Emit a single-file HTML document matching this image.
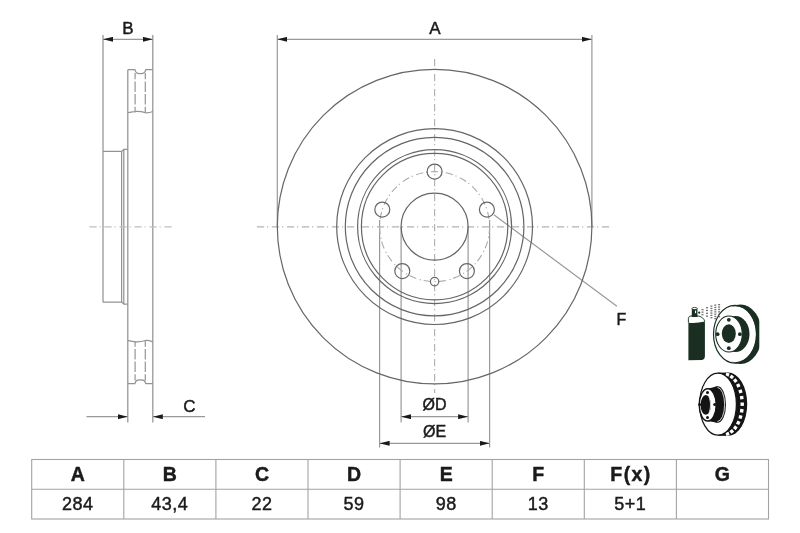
<!DOCTYPE html>
<html><head><meta charset="utf-8">
<style>
html,body{margin:0;padding:0;background:#fff;}
body{width:800px;height:533px;overflow:hidden;position:relative;font-family:"Liberation Sans",sans-serif;}
svg{position:absolute;left:0;top:0;}
.t{font-family:"Liberation Sans",sans-serif;fill:#1a1a1a;stroke:#1a1a1a;stroke-width:0.45px;}
svg{will-change:transform;}
</style></head><body>
<svg width="800" height="533" viewBox="0 0 800 533">
<defs>
<marker id="ar" viewBox="0 0 10 5" refX="10" refY="2.5" markerWidth="10" markerHeight="5" markerUnits="userSpaceOnUse" orient="auto-start-reverse">
<path d="M10,2.5 L0,0 L0,5 Z" fill="#1a1a1a"/>
</marker>
<clipPath id="clipR"><rect x="700" y="290" width="59.3" height="90"/></clipPath>
</defs>

<!-- ============ SIDE VIEW ============ -->
<g fill="none" stroke="#939393" stroke-width="1.25">
  <!-- B extension / hat outer -->
  <line x1="103" y1="35" x2="103" y2="302.2"/>
  <line x1="152.8" y1="35" x2="152.8" y2="422.5"/>
  <line x1="127.8" y1="69.8" x2="127.8" y2="422.5"/>
  <!-- hat walls -->
  <line x1="121.6" y1="151.4" x2="121.6" y2="302.2"/>
  <line x1="123.8" y1="149.4" x2="123.8" y2="304"/>
  <!-- hat top/bottom -->
  <path d="M103,151.4 H121.6 L123.8,149.4 H127.8"/>
  <path d="M103,302 H121.6 L123.8,304 H127.8"/>
  <!-- friction ring top w/ vent notch -->
  <path d="M127.8,69.7 H134.9 C136,73.8 137.5,73.5 140.3,73.5 C143.1,73.5 144.6,73.8 145.8,69.7 H152.8"/>
  <path d="M127.8,112.6 C131,112.4 133,111.7 135.1,111.5 C138,111.2 141.5,111.5 145.3,112.7 C148,113.2 150.5,112.4 152.8,111.5"/>
  <path d="M127.8,383.7 H134.9 C136,379.6 137.5,379.9 140.3,379.9 C143.1,379.9 144.6,379.6 145.8,383.7 H152.8"/>
  <path d="M127.8,340.6 C131,340.8 133,341.6 135.1,341.8 C138,342.1 141.5,341.9 145.3,340.5 C148,340 150.5,340.9 152.8,341.8"/>
</g>
<g fill="none" stroke="#999" stroke-width="1.25" stroke-dasharray="10.5 2.2" stroke-dashoffset="4.3">
  <line x1="135.1" y1="73" x2="135.1" y2="112.5"/>
  <line x1="145.3" y1="73" x2="145.3" y2="112.5"/>
  <line x1="135.1" y1="380.5" x2="135.1" y2="341"/>
  <line x1="145.3" y1="380.5" x2="145.3" y2="341"/>
</g>
<!-- side center line -->
<line x1="89.4" y1="226.8" x2="171.7" y2="226.8" stroke="#c0c0c0" stroke-width="1.2" stroke-dasharray="7.3 2.8 1.2 3.7"/>

<!-- B dimension -->
<line x1="103" y1="39.3" x2="152.8" y2="39.3" stroke="#999" stroke-width="1.2" marker-start="url(#ar)" marker-end="url(#ar)"/>
<text class="t" x="128" y="34.3" font-size="17" text-anchor="middle">B</text>
<!-- C dimension -->
<line x1="86.5" y1="416.7" x2="127.8" y2="416.7" stroke="#999" stroke-width="1.2" marker-end="url(#ar)"/>
<line x1="152.8" y1="416.7" x2="205" y2="416.7" stroke="#999" stroke-width="1.2" marker-start="url(#ar)"/>
<text class="t" x="189.5" y="411.6" font-size="17" text-anchor="middle">C</text>

<!-- ============ FRONT VIEW ============ -->
<g fill="none" stroke="#999" stroke-width="1.2">
  <line x1="277.3" y1="35" x2="277.3" y2="226.6"/>
  <line x1="591.9" y1="35" x2="591.9" y2="226.6"/>
  <line x1="277.3" y1="39.3" x2="591.9" y2="39.3" marker-start="url(#ar)" marker-end="url(#ar)"/>
  <!-- OD -->
  <line x1="401.1" y1="226.6" x2="401.1" y2="422.4"/>
  <line x1="468.1" y1="226.6" x2="468.1" y2="422.4"/>
  <line x1="401.1" y1="416.7" x2="468.1" y2="416.7" marker-start="url(#ar)" marker-end="url(#ar)"/>
  <!-- OE -->
  <line x1="379.6" y1="220" x2="379.6" y2="447.5"/>
  <line x1="489.6" y1="220" x2="489.6" y2="447.5"/>
  <line x1="379.6" y1="443.3" x2="489.6" y2="443.3" marker-start="url(#ar)" marker-end="url(#ar)"/>
  <!-- F leader -->
  <line x1="493.9" y1="214.8" x2="616.9" y2="306.2"/>
</g>
<text class="t" x="435" y="34.4" font-size="17" text-anchor="middle">A</text>
<text class="t" x="434.5" y="410.4" font-size="16" text-anchor="middle">ØD</text>
<text class="t" x="434.5" y="436.6" font-size="16" text-anchor="middle">ØE</text>
<text class="t" x="621.3" y="325.1" font-size="16" text-anchor="middle">F</text>

<!-- PCD -->
<circle cx="434.6" cy="226.6" r="55" fill="none" stroke="#aaa" stroke-width="1.1" stroke-dasharray="7.3 2.8 1.2 3.7"/>
<!-- center lines -->
<line x1="256.9" y1="226.8" x2="612" y2="226.8" stroke="#b3b3b3" stroke-width="1.2" stroke-dasharray="7.3 2.8 1.2 3.7"/>
<line x1="434.6" y1="59" x2="434.6" y2="393" stroke="#b3b3b3" stroke-width="1.2" stroke-dasharray="7.3 2.8 1.2 3.7"/>

<g fill="none" stroke="#666" stroke-width="1.2">
  <circle cx="434.6" cy="226.6" r="157.3"/>
  <circle cx="434.6" cy="226.6" r="97.9"/>
  <circle cx="434.6" cy="226.6" r="89.3"/>
  <circle cx="434.6" cy="226.6" r="77"/>
  <circle cx="434.6" cy="226.6" r="73.2"/>
  <circle cx="434.6" cy="226.6" r="33.5"/>
  <circle cx="434.6" cy="171.6" r="7.5"/>
  <circle cx="486.9" cy="209.6" r="7.5"/>
  <circle cx="466.9" cy="271.1" r="7.5"/>
  <circle cx="402.3" cy="271.1" r="7.5"/>
  <circle cx="382.3" cy="209.6" r="7.5"/>
  <circle cx="434.6" cy="281.6" r="4.2"/>
</g>
<!-- ============ TABLE ============ -->
<g stroke="#a3a3a3" stroke-width="1.1" fill="none">
  <rect x="31.7" y="459.5" width="736.8" height="59.5"/>
  <line x1="31.7" y1="489.3" x2="768.5" y2="489.3"/>
  <line x1="123.8" y1="459.5" x2="123.8" y2="519"/>
  <line x1="215.9" y1="459.5" x2="215.9" y2="519"/>
  <line x1="308" y1="459.5" x2="308" y2="519"/>
  <line x1="400.1" y1="459.5" x2="400.1" y2="519"/>
  <line x1="492.2" y1="459.5" x2="492.2" y2="519"/>
  <line x1="584.3" y1="459.5" x2="584.3" y2="519"/>
  <line x1="676.4" y1="459.5" x2="676.4" y2="519"/>
</g>
<g class="t" font-size="19.5" text-anchor="middle" font-weight="bold">
  <text x="77.75" y="481.2">A</text>
  <text x="169.85" y="481.2">B</text>
  <text x="261.95" y="481.2">C</text>
  <text x="354.05" y="481.2">D</text>
  <text x="446.15" y="481.2">E</text>
  <text x="538.25" y="481.2">F</text>
  <text x="631" y="481.2" letter-spacing="1.4">F(x)</text>
  <text x="722.45" y="481.2">G</text>
</g>
<g class="t" font-size="18" text-anchor="middle" letter-spacing="0.5">
  <text x="77.75" y="510">284</text>
  <text x="169.85" y="510">43,4</text>
  <text x="261.95" y="510">22</text>
  <text x="354.05" y="510">59</text>
  <text x="446.15" y="510">98</text>
  <text x="538.25" y="510">13</text>
  <text x="630.35" y="510">5+1</text>
</g>

<!-- ============ ICONS ============ -->
<g id="icon1">
<ellipse cx="740.5" cy="334.2" rx="21.5" ry="29.7" fill="#1a2f22" clip-path="url(#clipR)"/>
<ellipse cx="735.2" cy="334.2" rx="20.9" ry="28" fill="#fff"/>
<ellipse cx="735" cy="334.2" rx="21.5" ry="28.9" fill="none" stroke="#1a2f22" stroke-width="1.2"/>
<ellipse cx="735.5" cy="334" rx="14" ry="18" fill="#1a2f22"/>
<ellipse cx="729" cy="334" rx="13.3" ry="18" fill="#fff" stroke="#1a2f22" stroke-width="1.1"/>
<ellipse cx="728.8" cy="333.6" rx="7" ry="9.3" fill="#1a2f22"/>
<circle cx="728.8" cy="319.8" r="1.9" fill="#1a2f22"/>
<circle cx="717.6" cy="334.2" r="1.9" fill="#1a2f22"/>
<circle cx="739.9" cy="334.2" r="1.9" fill="#1a2f22"/>
<circle cx="728.8" cy="348.2" r="1.9" fill="#1a2f22"/>
<path d="M688.4,322.8 Q696.5,323.6 704.9,321.6 L704.9,356.5 Q704.6,359.8 701.5,360 L688.4,360.2 Z" fill="#1a2f22"/>
<path d="M688.4,322.8 L688.4,318.2 Q688.6,315.9 691.8,315.7 M697.4,315.8 Q703.4,316.6 704.9,321.6" fill="none" stroke="#1a2f22" stroke-width="0.9"/>
<rect x="691.8" y="308.4" width="5.6" height="8" fill="#1a2f22"/><rect x="691.4" y="315.4" width="6.4" height="1.6" rx="0.8" fill="#1a2f22"/><rect x="695" y="310.6" width="1.1" height="2.6" fill="#fff"/>
<ellipse cx="694.6" cy="308.5" rx="2.6" ry="1.1" fill="#fff" stroke="#1a2f22" stroke-width="0.8"/>
<circle cx="699.2" cy="312.7" r="1.1" fill="#1a2f22"/>
<rect x="701.5" y="309.0" width="2" height="1.3" fill="#444" opacity="0.75"/>
<rect x="701.5" y="311.5" width="2" height="1.3" fill="#444" opacity="0.75"/>
<rect x="701.5" y="314.0" width="2" height="1.3" fill="#444" opacity="0.75"/>
<rect x="706.0" y="307.0" width="2" height="1.3" fill="#444" opacity="0.75"/>
<rect x="706.0" y="309.8" width="2" height="1.3" fill="#444" opacity="0.75"/>
<rect x="706.0" y="312.7" width="2" height="1.3" fill="#444" opacity="0.75"/>
<rect x="706.0" y="315.5" width="2" height="1.3" fill="#444" opacity="0.75"/>
<rect x="710.4" y="305.5" width="2" height="1.3" fill="#444" opacity="0.75"/>
<rect x="710.4" y="307.8" width="2" height="1.3" fill="#444" opacity="0.75"/>
<rect x="710.4" y="310.1" width="2" height="1.3" fill="#444" opacity="0.75"/>
<rect x="710.4" y="312.4" width="2" height="1.3" fill="#444" opacity="0.75"/>
<rect x="710.4" y="314.7" width="2" height="1.3" fill="#444" opacity="0.75"/>
<rect x="710.4" y="317.0" width="2" height="1.3" fill="#444" opacity="0.75"/>
<rect x="714.3" y="304.5" width="2" height="1.3" fill="#444" opacity="0.75"/>
<rect x="714.3" y="306.8" width="2" height="1.3" fill="#444" opacity="0.75"/>
<rect x="714.3" y="309.0" width="2" height="1.3" fill="#444" opacity="0.75"/>
<rect x="714.3" y="311.2" width="2" height="1.3" fill="#444" opacity="0.75"/>
<rect x="714.3" y="313.5" width="2" height="1.3" fill="#444" opacity="0.75"/>
<rect x="714.3" y="315.8" width="2" height="1.3" fill="#444" opacity="0.75"/>
<rect x="714.3" y="318.0" width="2" height="1.3" fill="#444" opacity="0.75"/>
<rect x="718.1" y="304.0" width="2" height="1.3" fill="#444" opacity="0.75"/>
<rect x="718.1" y="306.4" width="2" height="1.3" fill="#444" opacity="0.75"/>
<rect x="718.1" y="308.8" width="2" height="1.3" fill="#444" opacity="0.75"/>
<rect x="718.1" y="311.2" width="2" height="1.3" fill="#444" opacity="0.75"/>
<rect x="718.1" y="313.6" width="2" height="1.3" fill="#444" opacity="0.75"/>
<rect x="718.1" y="316.0" width="2" height="1.3" fill="#444" opacity="0.75"/>
</g>
<g id="icon2">
<ellipse cx="728.2" cy="404.2" rx="19" ry="31.6" fill="#141414"/>
<rect x="718" y="372.6" width="10.2" height="63.2" fill="#141414"/>
<rect x="725.77" y="372.86" width="3.4" height="3.4" fill="#fff" transform="rotate(-70.9 727.47 374.56)"/>
<rect x="730.05" y="375.27" width="3.4" height="3.4" fill="#fff" transform="rotate(-51.5 731.75 376.97)"/>
<rect x="733.61" y="378.95" width="3.4" height="3.4" fill="#fff" transform="rotate(-37.2 735.31 380.65)"/>
<rect x="736.56" y="383.85" width="3.4" height="3.4" fill="#fff" transform="rotate(-25.6 738.26 385.55)"/>
<rect x="738.76" y="389.69" width="3.4" height="3.4" fill="#fff" transform="rotate(-16.0 740.46 391.39)"/>
<rect x="740.06" y="395.94" width="3.4" height="3.4" fill="#fff" transform="rotate(-7.7 741.76 397.64)"/>
<rect x="740.50" y="402.50" width="3.4" height="3.4" fill="#fff" transform="rotate(0.0 742.20 404.20)"/>
<rect x="740.06" y="409.06" width="3.4" height="3.4" fill="#fff" transform="rotate(7.7 741.76 410.76)"/>
<rect x="738.76" y="415.31" width="3.4" height="3.4" fill="#fff" transform="rotate(16.0 740.46 417.01)"/>
<rect x="736.56" y="421.15" width="3.4" height="3.4" fill="#fff" transform="rotate(25.6 738.26 422.85)"/>
<rect x="733.61" y="426.05" width="3.4" height="3.4" fill="#fff" transform="rotate(37.2 735.31 427.75)"/>
<rect x="730.05" y="429.73" width="3.4" height="3.4" fill="#fff" transform="rotate(51.5 731.75 431.43)"/>
<rect x="725.77" y="432.14" width="3.4" height="3.4" fill="#fff" transform="rotate(70.9 727.47 433.84)"/>
<ellipse cx="718" cy="404.2" rx="18.4" ry="31" fill="#fff" stroke="#141414" stroke-width="1.2"/>
<ellipse cx="717.6" cy="404.5" rx="8.4" ry="18.3" fill="#141414"/>
<ellipse cx="717.3" cy="404.5" rx="7.3" ry="17.1" fill="none" stroke="#fff" stroke-width="0.8"/>
<path d="M707.75,388.7 L717.3,386.3 L717.3,422.7 L707.75,421.1 Z" fill="#141414"/>
<ellipse cx="707.75" cy="404.9" rx="8.5" ry="16.1" fill="#fff" stroke="#141414" stroke-width="1.5"/>
<ellipse cx="705.8" cy="404.9" rx="5.2" ry="9.9" fill="#141414"/>
<ellipse cx="708.7" cy="404.9" rx="2.1" ry="8" fill="#fff"/>
<ellipse cx="707.7" cy="404.9" rx="2.3" ry="8.5" fill="#141414"/>
<circle cx="707.5" cy="392.4" r="1.5" fill="#141414"/>
<circle cx="714.7" cy="404.6" r="1.5" fill="#141414"/>
<circle cx="707.5" cy="417.4" r="1.5" fill="#141414"/>
<circle cx="699.7" cy="404.6" r="1.5" fill="#141414"/>
</g>
</svg>
</body></html>
